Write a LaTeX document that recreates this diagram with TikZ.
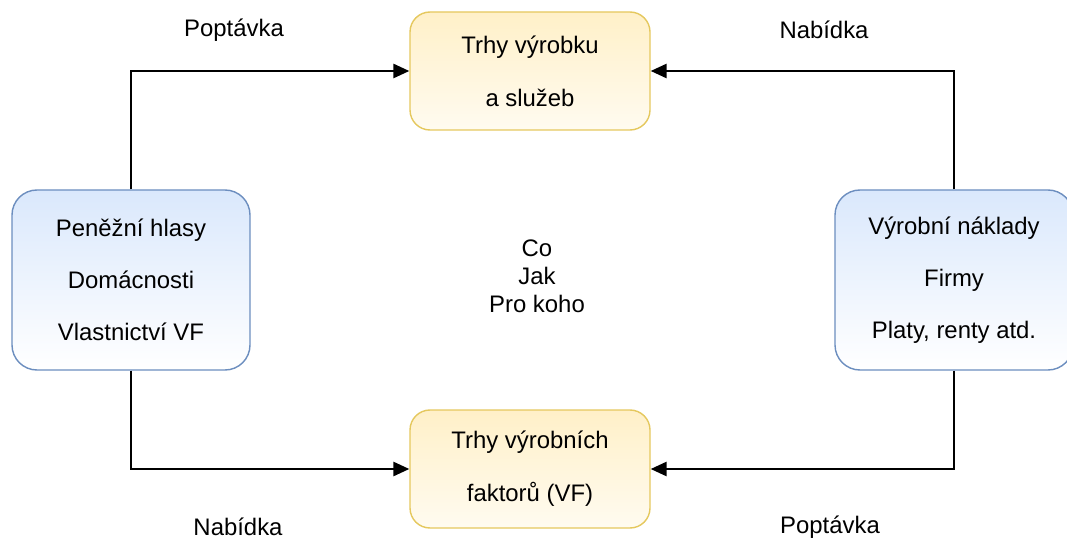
\documentclass[tikz,border=0pt]{standalone}
\usepackage{fontspec}
\setmainfont{Liberation Sans}
\usetikzlibrary{arrows.meta}

\tikzset{
  trh/.style={draw=yellow!45!brown!80!white, line width=0.8pt, rounded corners=0.4cm,
    top color={rgb,255:red,255;green,240;blue,200}, bottom color={rgb,255:red,255;green,251;blue,240},
    minimum width=4.8cm, minimum height=2.36cm, align=center},
  subjekt/.style={draw={rgb,255:red,108;green,142;blue,191}, line width=0.8pt, rounded corners=0.5cm,
    top color={rgb,255:red,218;green,232;blue,252}, bottom color=white,
    minimum width=4.76cm, minimum height=3.6cm, align=center},
  tok/.style={line width=1.2pt, -{Triangle[length=9pt,width=8pt]}},
  every node/.style={font=\fontsize{13.6}{16}\selectfont}
}

\begin{document}
\begin{tikzpicture}
\useasboundingbox (0, 0) rectangle (21.34, 10.82);

\node[trh] (vyrobky) at (10.6, 9.4) {Trhy výrobku\\[0.5cm]a služeb};
\node[trh] (faktory) at (10.6, 1.44) {Trhy výrobních\\[0.5cm]faktorů (VF)};

\node[subjekt] (domacnosti) at (2.62, 5.22) {Peněžní hlasy\\[0.48cm]Domácnosti\\[0.48cm]Vlastnictví VF};
\node[subjekt] (firmy) at (19.08, 5.22) {Výrobní náklady\\[0.48cm]Firmy\\[0.48cm]Platy, renty atd.};

\node[align=center] (otazky) at (10.74, 5.3) {Co\\Jak\\Pro koho};

\node (poptavkaV) at (4.68, 10.22) {Poptávka};
\node (nabidkaV) at (16.48, 10.22) {Nabídka};
\node (nabidkaF) at (4.76, 0.28) {Nabídka};
\node (poptavkaF) at (16.6, 0.28) {Poptávka};

\draw[tok] (domacnosti.north) |- (vyrobky.west);
\draw[tok] (firmy.north) |- (vyrobky.east);
\draw[tok] (domacnosti.south) |- (faktory.west);
\draw[tok] (firmy.south) |- (faktory.east);

\end{tikzpicture}
\end{document}
